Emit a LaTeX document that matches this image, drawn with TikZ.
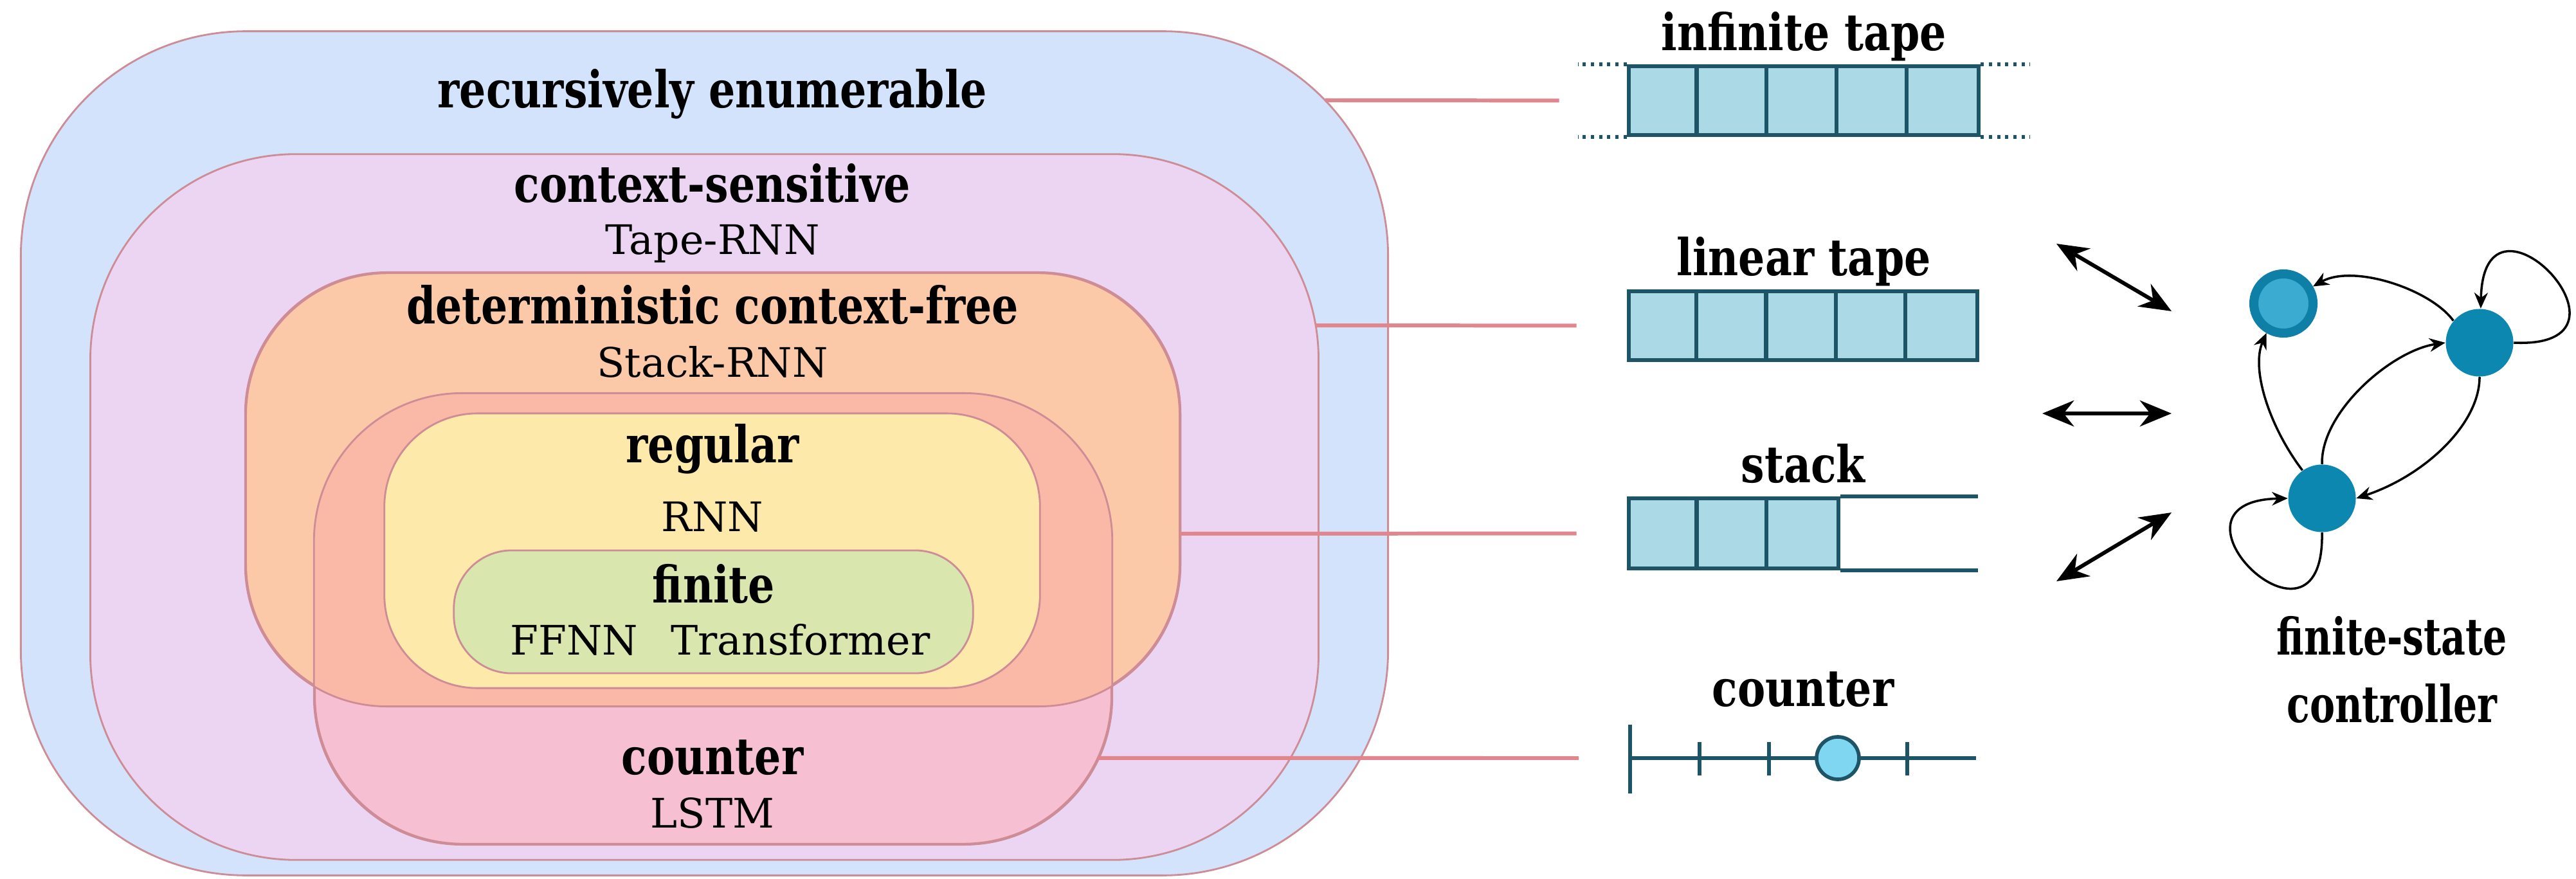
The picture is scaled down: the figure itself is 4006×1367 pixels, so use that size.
\documentclass[tikz,border=0pt]{standalone}
\usepackage{fontspec}
\newfontfamily\labfont[FakeStretch=0.82]{DejaVu Serif}
\newfontfamily\modfont{DejaVu Serif}
\newfontfamily\fscfont[FakeStretch=0.74]{DejaVu Serif}
\usetikzlibrary{arrows.meta,calc,intersections}

\definecolor{reblue}{HTML}{D3E3FC}
\definecolor{cspurple}{HTML}{ECD5F3}
\definecolor{dcforange}{HTML}{FCC9A8}
\definecolor{ctrpink}{HTML}{F6BFD2}
\definecolor{ovsalmon}{HTML}{FAB8A6}
\definecolor{regyellow}{HTML}{FDE9AA}
\definecolor{fingreen}{HTML}{D9E6AE}
\definecolor{boxedge}{HTML}{CD8C96}
\definecolor{connpink}{HTML}{E0868C}
\definecolor{tapeteal}{HTML}{1E5566}
\definecolor{tapefill}{HTML}{ABDAE6}
\definecolor{beadfill}{HTML}{7FD6F0}
\definecolor{stateblue}{HTML}{0C87AF}
\definecolor{acceptin}{HTML}{3BABD1}
\definecolor{acceptring}{HTML}{0E7FA6}

\begin{document}
\begin{tikzpicture}[x=0.01cm,y=-0.01cm,
  setbox/.style={draw=boxedge, line width=0.8pt, rounded corners=#1, inner sep=0pt},
  boxborder/.style={draw=boxedge, line width=0.8pt, rounded corners=#1},
  title/.style={font=\labfont\bfseries\fontsize{22.5pt}{25pt}\selectfont, anchor=base, inner sep=0pt},
  fsctitle/.style={font=\fscfont\bfseries\fontsize{22.5pt}{25pt}\selectfont, anchor=base, inner sep=0pt},
  model/.style={font=\modfont\fontsize{18pt}{20pt}\selectfont, anchor=base, inner sep=0pt},
  conn/.style={draw=connpink, line width=1.7pt},
  tapecell/.style={draw=tapeteal, fill=tapefill, line width=1.8pt, inner sep=0pt},
  tapeline/.style={draw=tapeteal, line width=1.8pt},
  tapedots/.style={draw=tapeteal, line width=1.6pt, dash pattern=on 1.4pt off 2.2pt},
  bead/.style={circle, draw=tapeteal, fill=beadfill, line width=1.6pt, minimum size=0.66cm, inner sep=0pt},
  bigarrow/.style={line width=1.7pt, {Stealth[length=14pt,width=11.5pt]}-{Stealth[length=14pt,width=11.5pt]}},
  state/.style={circle, fill=stateblue, minimum size=1.05cm, inner sep=0pt},
  accept/.style={circle, fill=acceptin, draw=acceptring, line width=4pt, minimum size=0.92cm, inner sep=0pt},
  trans/.style={line width=1pt, -{Stealth[length=7pt,width=6pt]}}
]
\useasboundingbox[fill=white] (0,0) rectangle (4006,1367);

% ---- nested language classes ----
\node[setbox=3.5cm, fill=reblue, minimum width=21.25cm, minimum height=13.12cm, name path=reP] (re) at (1095.5,705) {};
\node[setbox=3.2cm, fill=cspurple, minimum width=19.09cm, minimum height=10.97cm, name path=csP] (cs) at (1095.5,788.5) {};
\node[setbox=2.2cm, fill=dcforange, minimum width=14.51cm, minimum height=6.72cm, name path=dcfP] (dcf) at (1108.5,761) {};
\node[setbox=2.3cm, fill=ctrpink, minimum width=12.38cm, minimum height=6.99cm, name path=ctrP] (ctr) at (1109,962.5) {};
% overlap of the counter and context-free classes
\begin{scope}
  \clip[rounded corners=2.2cm] (dcf.south west) rectangle (dcf.north east);
  \fill[ovsalmon, rounded corners=2.3cm] (ctr.south west) rectangle (ctr.north east);
\end{scope}
\draw[boxborder=2.2cm] (dcf.south west) rectangle (dcf.north east);
\draw[boxborder=2.3cm] (ctr.south west) rectangle (ctr.north east);
\node[setbox=1.45cm, fill=regyellow, minimum width=10.19cm, minimum height=4.27cm] (reg) at (1107.5,856.5) {};
\node[setbox=0.9cm, fill=fingreen, minimum width=8.07cm, minimum height=1.91cm] (fin) at (1109.5,951.5) {};

% ---- class labels ----
\node[title] (tRE) at (1108,168) {recursively enumerable};
\node[title] (tCS) at (1108,315) {context-sensitive};
\node[model] (mCS) at (1108,396) {Tape-RNN};
\node[title] (tDCF) at (1108,504) {deterministic context-free};
\node[model] (mDCF) at (1108,586) {Stack-RNN};
\node[title] (tREG) at (1108,719) {regular};
\node[model] (mREG) at (1108,826) {RNN};
\node[title] (tFIN) at (1110,937) {finite};
\node[model] (mFF) at (893,1018) {FFNN};
\node[model] (mTR) at (1245,1018) {Transformer};
\node[title] (tCTR) at (1108,1204) {counter};
\node[model] (mCTR) at (1108,1287) {LSTM};

% ---- memory devices ----
% infinite tape
\node[title] (lInf) at (2805,79) {infinite tape};
\node[tapecell, minimum width=5.44cm, minimum height=1.07cm] (tapeI) at (2805,156.5) {};
\foreach \k in {1,2,3,4}
  \draw[tapeline] ($(tapeI.north west)+(\k*108.8,0)$) -- ($(tapeI.south west)+(\k*108.8,0)$);
\draw[tapedots] (tapeI.north west) -- +(-76,0);
\draw[tapedots] (tapeI.south west) -- +(-76,0);
\draw[tapedots] (tapeI.north east) -- +(76,0);
\draw[tapedots] (tapeI.south east) -- +(76,0);

% linear tape
\node[title] (lLin) at (2805,429) {linear tape};
\node[tapecell, minimum width=5.42cm, minimum height=1.07cm] (tapeL) at (2804,506.5) {};
\foreach \k in {1,2,3,4}
  \draw[tapeline] ($(tapeL.north west)+(\k*108.4,0)$) -- ($(tapeL.south west)+(\k*108.4,0)$);

% stack
\node[title] (lStk) at (2804,750) {stack};
\node[tapecell, minimum width=3.26cm, minimum height=1.09cm] (stk) at (2696,829.5) {};
\foreach \k in {1,2}
  \draw[tapeline] ($(stk.north west)+(\k*108.7,0)$) -- ($(stk.south west)+(\k*108.7,0)$);
\draw[tapeline] (stk.north east) -- +(214,0);
\draw[tapeline] (stk.south east) -- +(214,0);

% counter
\node[title] (lCtr) at (2804,1098) {counter};
\coordinate (czero) at (2535,1179);
\draw[tapeline] (2535,1127) -- (2535,1234);
\draw[tapeline] (czero) -- (3073,1179);
\foreach \tx in {2643,2751,2966}
  \draw[tapeline] (\tx,1154) -- (\tx,1206);
\node[bead] (bead) at (2858,1179) {};

% ---- links from classes to memory devices ----
\path[name path=h1] (1700,156) -- (2300,156);
\path[name path=h2] (1900,506) -- (2300,506);
\path[name path=h3] (1700,830) -- (2300,830);
\path[name path=h4] (1600,1179) -- (2300,1179);
\path[name intersections={of=reP and h1, by=pRE}];
\path[name intersections={of=csP and h2, by=pCS}];
\path[name intersections={of=dcfP and h3, by=pDCF}];
\path[name intersections={of=ctrP and h4, by=pCTR}];
\draw[conn, shorten >=1.05cm] (pRE) -- (tapeI.west);
\draw[conn, shorten >=0.78cm] (pCS) -- (tapeL.west);
\draw[conn, shorten >=0.78cm] (pDCF) -- (stk.west);
\draw[conn, shorten >=0.80cm] (pCTR) -- (czero);

% ---- finite-state controller ----
\node[accept] (q0) at (3551,472) {};
\node[state] (q1) at (3856,533) {};
\node[state] (q2) at (3611,775) {};
\draw[trans] (q1.140) .. controls (3780,450) and (3660,410) .. (q0.30);
\draw[trans] (q1.east) .. controls +(220,10) and (3862,261) .. (q1.88);
\draw[trans] (q2.north) .. controls (3609,640) and (3720,545) .. (q1.west);
\draw[trans] (q1.south) .. controls (3856,660) and (3770,740) .. (q2.east);
\draw[trans] (q2.125) .. controls (3530,665) and (3500,575) .. (q0.-120);
\draw[trans] (q2.south) .. controls (3615,1050) and (3340,780) .. (q2.west);

\node[fsctitle] (lFsc1) at (3720,1018) {finite-state};
\node[fsctitle] (lFsc2) at (3720,1123) {controller};

% ---- read/write access between memory and controller ----
\coordinate (m1) at (3198,379);  \coordinate (k1) at (3377,484);
\coordinate (m2) at (3176,643);  \coordinate (k2) at (3377,643);
\coordinate (m3) at (3198,904);  \coordinate (k3) at (3377,797);
\draw[bigarrow] (m1) -- (k1);
\draw[bigarrow] (m2) -- (k2);
\draw[bigarrow] (m3) -- (k3);
\end{tikzpicture}
\end{document}
